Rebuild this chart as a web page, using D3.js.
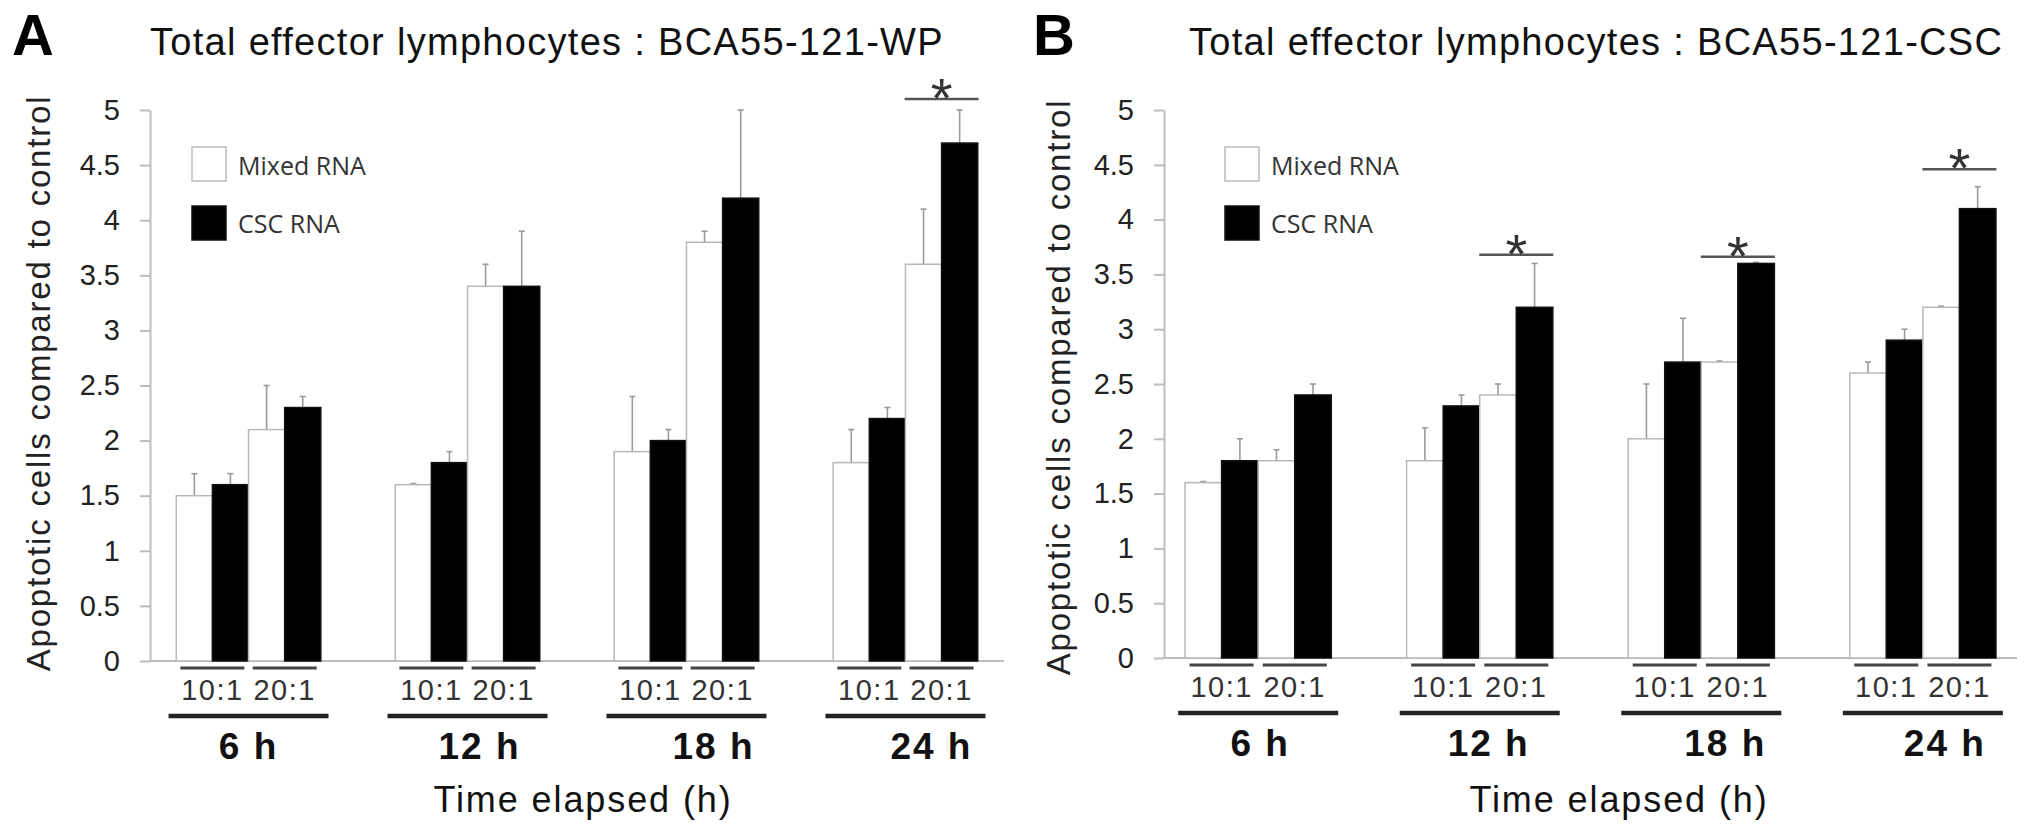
<!DOCTYPE html>
<html>
<head>
<meta charset="utf-8">
<script src="https://cdn.jsdelivr.net/npm/d3@7"></script>
<style>
  body { margin: 0; background: #fff; }
  text { font-family: "Liberation Sans", Arial, sans-serif; }
</style>
</head>
<body>
<div id="target"></div>
<script>
// categories
const times = ["6 h", "12 h", "18 h", "24 h"];
const ratios = ["10:1", "20:1"];
const seriesNames = ["Mixed RNA", "CSC RNA"];
const yTicks = [0, 0.5, 1, 1.5, 2, 2.5, 3, 3.5, 4, 4.5, 5];

// values, ordered 6h 10:1, 6h 20:1, 12h 10:1, 12h 20:1, ...
const mixedWP = [1.5, 2.1, 1.6, 3.4, 1.9, 3.8, 1.8, 3.6];
const mixedWPErr = [0.2, 0.4, 0.01, 0.2, 0.5, 0.1, 0.3, 0.5];
const cscWP = [1.6, 2.3, 1.8, 3.4, 2.0, 4.2, 2.2, 4.7];
const cscWPErr = [0.1, 0.1, 0.1, 0.5, 0.1, 0.8, 0.1, 0.3];

const mixedCSC = [1.6, 1.8, 1.8, 2.4, 2.0, 2.7, 2.6, 3.2];
const mixedCSCErr = [0.01, 0.1, 0.3, 0.1, 0.5, 0.01, 0.1, 0.01];
const cscCSC = [1.8, 2.4, 2.3, 3.2, 2.7, 3.6, 2.9, 4.1];
const cscCSCErr = [0.2, 0.1, 0.1, 0.4, 0.4, 0.01, 0.1, 0.2];

// significance marks
const sigWP = [{ time: "24 h", ratio: "20:1", level: 5.1 }];
const sigCSC = [
  { time: "12 h", ratio: "20:1", level: 3.68 },
  { time: "18 h", ratio: "20:1", level: 3.66 },
  { time: "24 h", ratio: "20:1", level: 4.46 }
];

const width = 2031,
  height = 836;

const svg = d3.select("#target").append("svg")
  .attr("width", width)
  .attr("height", height);

function panel(cfg) {
  const g = svg.append("g");
  const y = d3.scaleLinear().domain([0, 5]).range([cfg.base, 110]);
  const x0 = d3.scaleBand()
    .domain(times)
    .range([cfg.left, cfg.right])
    .paddingInner(0.34)
    .paddingOuter(cfg.outer);
  const x1 = d3.scaleBand().domain(ratios).range([0, x0.bandwidth()]);
  const x2 = d3.scaleBand().domain(seriesNames).range([0, x1.bandwidth()]);

  // panel letter + title
  g.append("text")
    .attr("x", cfg.letterX).attr("y", 55)
    .style("font-size", "58px").style("font-weight", "bold")
    .text(cfg.letter);
  g.append("text")
    .attr("x", cfg.titleX).attr("y", 55)
    .style("font-size", "38px").style("letter-spacing", "1.3px")
    .attr("fill", "#111")
    .text(cfg.title);

  // y axis
  const yAxis = d3.axisLeft(y)
    .tickValues(yTicks)
    .tickSize(10)
    .tickSizeOuter(0)
    .tickPadding(20)
    .tickFormat((d) => String(d));
  const ya = g.append("g")
    .attr("transform", `translate(${cfg.left},0)`)
    .call(yAxis);
  ya.select(".domain").attr("stroke", "#bdbdbd").attr("stroke-width", 2);
  ya.selectAll(".tick line").attr("stroke", "#bdbdbd").attr("stroke-width", 2);
  ya.selectAll(".tick text")
    .attr("fill", "#222")
    .style("font-size", "29px")
    .style("font-family", "\"Liberation Sans\", Arial, sans-serif");

  // baseline
  g.append("line")
    .attr("x1", cfg.left).attr("x2", cfg.right)
    .attr("y1", y(0)).attr("y2", y(0))
    .attr("stroke", "#bdbdbd").attr("stroke-width", 2);

  // y title
  g.append("text")
    .attr("transform", `translate(${cfg.yLabelX},${cfg.yLabelY}) rotate(-90)`)
    .attr("text-anchor", "middle")
    .style("font-size", "33px").style("letter-spacing", "1.8px")
    .attr("fill", "#222")
    .text("Apoptotic cells compared to control");

  const rows = times.flatMap((t, ti) => ratios.flatMap((r, ri) =>
    seriesNames.map((s, si) => ({
      t: t, r: r, s: s,
      v: cfg.values[si][ti * 2 + ri],
      e: cfg.errs[si][ti * 2 + ri]
    }))));

  const bx = (d) => x0(d.t) + x1(d.r) + x2(d.s);

  // error bars
  const eb = g.append("g").attr("stroke", "#9a9a9a").attr("stroke-width", 1.6);
  eb.selectAll("line.v")
    .data(rows)
    .enter().append("line")
    .attr("x1", (d) => bx(d) + x2.bandwidth() / 2)
    .attr("x2", (d) => bx(d) + x2.bandwidth() / 2)
    .attr("y1", (d) => y(d.v))
    .attr("y2", (d) => y(d.v + d.e));
  eb.selectAll("line.c")
    .data(rows)
    .enter().append("line")
    .attr("x1", (d) => bx(d) + x2.bandwidth() / 2 - 3)
    .attr("x2", (d) => bx(d) + x2.bandwidth() / 2 + 3)
    .attr("y1", (d) => y(d.v + d.e))
    .attr("y2", (d) => y(d.v + d.e));

  // bars
  g.selectAll("rect.bar")
    .data(rows)
    .enter().append("rect")
    .attr("x", bx)
    .attr("y", (d) => y(d.v))
    .attr("width", x2.bandwidth())
    .attr("height", (d) => y(0) - y(d.v))
    .attr("fill", (d) => d.s === seriesNames[0] ? "#fff" : "#000")
    .attr("stroke", (d) => d.s === seriesNames[0] ? "#b8b8b8" : "#111")
    .attr("stroke-width", 1.5);

  // ratio underlines + labels
  const sub = times.flatMap((t) => ratios.map((r) => ({ t: t, r: r })));
  const sx = (d) => x0(d.t) + x1(d.r) + x1.bandwidth() / 2;
  g.selectAll("line.sub")
    .data(sub)
    .enter().append("line")
    .attr("x1", (d) => sx(d) - 32)
    .attr("x2", (d) => sx(d) + 32)
    .attr("y1", y(0) + 7).attr("y2", y(0) + 7)
    .attr("stroke", "#444").attr("stroke-width", 3);
  g.selectAll("text.sub")
    .data(sub)
    .enter().append("text")
    .attr("x", sx)
    .attr("y", y(0) + 39)
    .attr("text-anchor", "middle")
    .attr("fill", "#333")
    .style("font-size", "29px").style("letter-spacing", "1.5px")
    .text((d) => d.r);

  // time underlines + labels
  g.selectAll("line.time")
    .data(times)
    .enter().append("line")
    .attr("x1", (d) => x0(d) + x0.bandwidth() / 2 - 80)
    .attr("x2", (d) => x0(d) + x0.bandwidth() / 2 + 80)
    .attr("y1", y(0) + 55).attr("y2", y(0) + 55)
    .attr("stroke", "#222").attr("stroke-width", 4.5);
  g.selectAll("text.time")
    .data(times)
    .enter().append("text")
    .attr("x", (d, i) => x0(d) + x0.bandwidth() / 2 + cfg.labelDx[i])
    .attr("y", y(0) + 98)
    .attr("text-anchor", "middle")
    .attr("fill", "#111")
    .style("font-size", "37px").style("font-weight", "bold")
    .style("letter-spacing", "2px")
    .text((d) => d);

  g.append("text")
    .attr("x", cfg.xTitleX).attr("y", 812)
    .attr("text-anchor", "middle")
    .attr("fill", "#111")
    .style("font-size", "36px").style("letter-spacing", "1.9px")
    .text("Time elapsed (h)");

  // legend
  seriesNames.forEach((s, i) => {
    g.append("rect")
      .attr("x", cfg.legendX).attr("y", 147 + i * 59)
      .attr("width", 34).attr("height", 34)
      .attr("fill", i === 0 ? "#fff" : "#000")
      .attr("stroke", i === 0 ? "#bbb" : "#111")
      .attr("stroke-width", 1.5);
    g.append("text")
      .attr("x", cfg.legendX + 46).attr("y", 175 + i * 58)
      .style("font-family", "\"Open Sans\", sans-serif")
      .style("font-size", "25px")
      .attr("fill", "#333")
      .text(s);
  });

  // significance
  cfg.sig.forEach((s) => {
    const cx = x0(s.time) + x1(s.ratio) + x1.bandwidth() / 2;
    g.append("line")
      .attr("x1", cx - 37).attr("x2", cx + 37)
      .attr("y1", y(s.level)).attr("y2", y(s.level))
      .attr("stroke", "#555").attr("stroke-width", 2.5);
    g.append("text")
      .attr("x", cx).attr("y", y(s.level) + 18)
      .attr("text-anchor", "middle")
      .attr("fill", "#333")
      .style("font-size", "56px")
      .text("*");
  });
}

panel({
  letter: "A",
  title: "Total effector lymphocytes : BCA55-121-WP",
  values: [mixedWP, cscWP],
  errs: [mixedWPErr, cscWPErr],
  sig: sigWP,
  left: 150, right: 1004, outer: 0.12, base: 661,
  letterX: 12, titleX: 150, legendX: 192,
  yLabelX: 50, yLabelY: 383, xTitleX: 583,
  labelDx: [0, 12, 27, 26]
});

panel({
  letter: "B",
  title: "Total effector lymphocytes : BCA55-121-CSC",
  values: [mixedCSC, cscCSC],
  errs: [mixedCSCErr, cscCSCErr],
  sig: sigCSC,
  left: 1164, right: 2017, outer: 0.095, base: 658,
  letterX: 1033, titleX: 1189, legendX: 1225,
  yLabelX: 1070, yLabelY: 387, xTitleX: 1619,
  labelDx: [2, 9, 24, 22]
});
</script>
</body>
</html>
